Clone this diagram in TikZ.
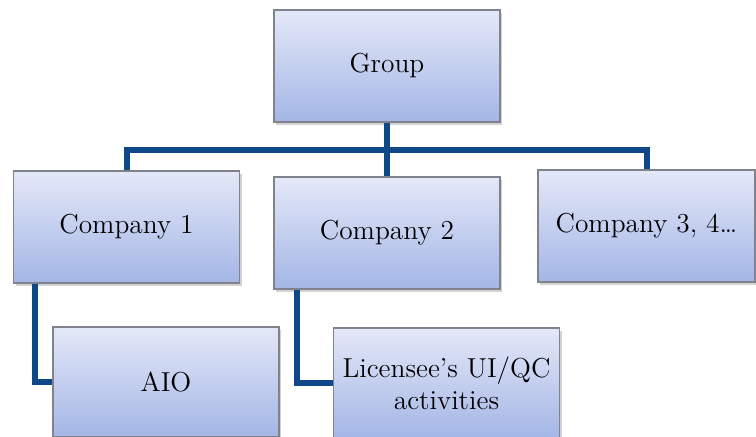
\documentclass[tikz,border=0pt]{standalone}
\usepackage{tikz}
\usetikzlibrary{shadows}
\definecolor{linkblue}{RGB}{14,72,136}
\definecolor{boxtop}{RGB}{228,232,248}
\definecolor{boxbot}{RGB}{164,182,230}
\definecolor{boxrim}{RGB}{128,130,140}
\tikzstyle{orgbox}=[draw=boxrim, line width=0.6pt, top color=boxtop, bottom color=boxbot, minimum width=113pt, minimum height=56pt, inner sep=0pt, align=center, font=\fontsize{13.7}{16}\selectfont, drop shadow={shadow xshift=1.2pt, shadow yshift=-1.4pt, opacity=0.35}]
\tikzstyle{link}=[draw=linkblue, line width=3pt]

\begin{document}
\begin{tikzpicture} [x=0.5pt, y=-0.5pt]
%%position
\useasboundingbox (0,0) rectangle (756,437);
%%group
\node[orgbox] (group) at (387,66) {Group};
%%companies
\node[orgbox] (comp1) at (126.5,227) {Company 1};
\node[orgbox] (comp2) at (387,233) {Company 2};
\node[orgbox, minimum width=108.5pt] (comp3) at (646.5,226) {Company 3, 4\dots};
%%units
\node[orgbox, minimum height=55pt] (aio) at (166,382) {AIO};
\node[orgbox, minimum height=55pt] (lic) at (446.5,383) {Licensee’s UI/QC\\activities};
%%wire
\coordinate (bus) at (387,150);
\draw[link] (group.south) -- (bus);
\draw[link] (comp1.north) |- (bus) -| (comp3.north);
\draw[link] (bus) -- (comp2.north);
\draw[link] ([xshift=11pt]comp1.south west) |- (aio.west);
\draw[link] ([xshift=12pt]comp2.south west) |- (lic.west);
\end{tikzpicture}
\end{document}
